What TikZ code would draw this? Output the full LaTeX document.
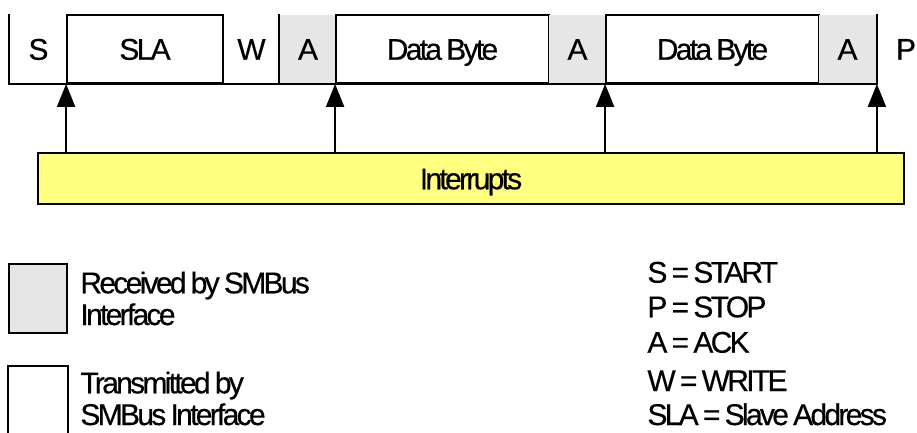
\documentclass[tikz,border=0pt]{standalone}
\usepackage{fontspec}
\setmainfont{Liberation Sans}[LetterSpace=-9,WordSpace=0.75,FakeBold=0.4]
\usetikzlibrary{arrows.meta}
\definecolor{rxgray}{RGB}{230,230,230}
\definecolor{intyellow}{RGB}{255,255,128}
\begin{document}
\begin{tikzpicture}[x=1pt,y=-1pt,line width=1.8pt,
  lab/.style={font=\fontsize{30}{32}\selectfont,inner sep=0pt},
  cell/.style={lab,minimum height=68pt,text height=21.5pt,text depth=0pt},
  rxcell/.style={cell,fill=rxgray},
  txcell/.style={cell,draw,fill=white},
  irq/.style={-{Triangle[length=23pt,width=18pt]}},
  legtext/.style={lab,anchor=base west}]
\useasboundingbox (0,0) rectangle (917,433);
% frame cells
\node[cell,minimum width=57pt] (s) at (38.5,49) {S};
\node[txcell,minimum width=156pt] (sla) at (145,49) {SLA};
\node[cell,minimum width=57pt] (w) at (251.5,49) {W};
\node[rxcell,minimum width=56pt] (a1) at (308,49) {A};
\node[txcell,minimum width=213pt] (d1) at (442.5,49) {Data Byte};
\node[rxcell,minimum width=57pt] (a2) at (577.5,49) {A};
\node[txcell,minimum width=213pt] (d2) at (712.5,49) {Data Byte};
\node[rxcell,minimum width=57pt] (a3) at (847.5,49) {A};
\node[lab,anchor=base] (p) at (906,59.7) {P};
\draw (s.north west) -- (s.south west) -- (a3.south east) -- (a3.north east);
\draw (a1.north west) -- (a1.south west);
% interrupts
\node[cell,draw,fill=intyellow,minimum width=866pt,minimum height=51pt] (int) at (471,178.5) {Interrupts};
\draw[irq] (int.north -| sla.west) -- (sla.south west);
\draw[irq] (int.north -| d1.west) -- (d1.south west);
\draw[irq] (int.north -| d2.west) -- (d2.south west);
\draw[irq] (int.north -| a3.east) -- (a3.south east);
% legend boxes
\node[draw,fill=rxgray,inner sep=0pt,minimum width=58pt,minimum height=69pt] (rxkey) at (38,298.5) {};
\node[inner sep=0pt,minimum width=58pt,minimum height=76pt] (txkey) at (38,405) {};
\draw (txkey.south west) -- (txkey.north west) -- (txkey.north east) -- (txkey.south east);
\node[legtext] (rx1) at (79.5,293.3) {Received by SMBus};
\node[legtext] (rx2) at (79.5,325) {Interface};
\node[legtext] (tx1) at (79.5,393.3) {Transmitted by};
\node[legtext] (tx2) at (79.5,425) {SMBus Interface};
% abbreviations
\node[legtext] (k1) at (646.5,282.7) {S = START};
\node[legtext] (k2) at (646.5,317.3) {P = STOP};
\node[legtext] (k3) at (646.5,352.7) {A = ACK};
\node[legtext] (k4) at (646.5,391) {W = WRITE};
\node[legtext] (k5) at (646.5,425) {SLA = Slave Address};
\end{tikzpicture}
\end{document}
